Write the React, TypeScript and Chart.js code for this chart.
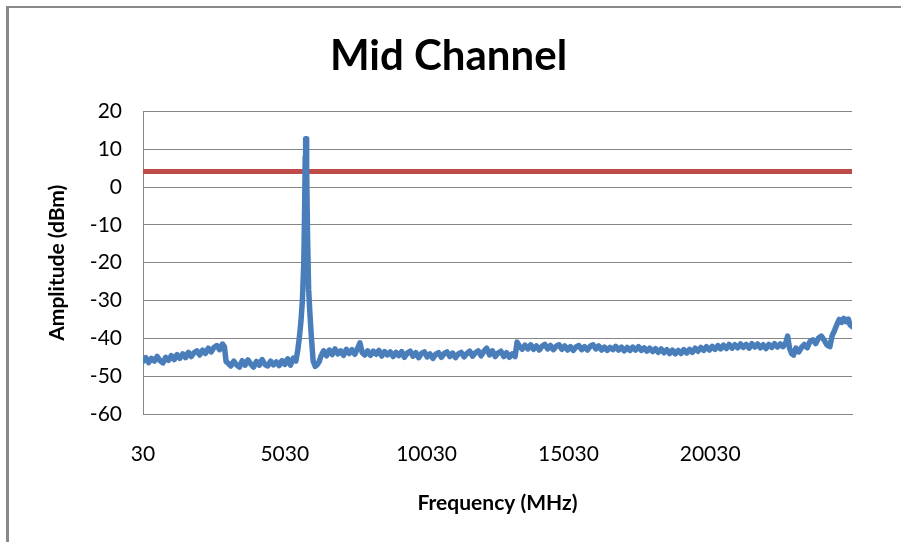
import React, { useEffect, useRef } from "react";
import { Chart, registerables } from "chart.js";

Chart.register(...registerables);

const chartTitle = "Mid Channel";
const xAxisTitle = "Frequency (MHz)";
const yAxisTitle = "Amplitude (dBm)";

const xTickLabels = [30, 5030, 10030, 15030, 20030];
const yTickMin = -60;
const yTickMax = 20;
const yTickStep = 10;

const freqMHz = [
  30, 130, 230, 330, 430, 530, 630, 730, 830, 930,
  1030, 1130, 1230, 1330, 1430, 1530, 1630, 1730, 1830, 1930,
  2030, 2130, 2230, 2330, 2430, 2530, 2630, 2730, 2830, 2900,
  2960, 3030, 3130, 3230, 3330, 3430, 3530, 3630, 3730, 3830,
  3930, 4030, 4130, 4230, 4330, 4430, 4530, 4630, 4730, 4830,
  4930, 5030, 5130, 5230, 5330,
  5420, 5480, 5540, 5600, 5650, 5700, 5730, 5750, 5765, 5780,
  5800, 5830, 5870, 5920, 5970, 6030, 6100, 6170, 6240,
  6300, 6400, 6500, 6600, 6700, 6800, 6900, 7000, 7100, 7200,
  7300, 7400, 7500, 7600, 7680, 7760, 7850, 7950, 8050, 8150,
  8250, 8350, 8450, 8550, 8650, 8750, 8850, 8950, 9050, 9150,
  9250, 9350, 9450, 9550, 9650, 9750, 9850, 9950, 10050, 10150,
  10250, 10350, 10450, 10550, 10650, 10750, 10850, 10950, 11050, 11150,
  11250, 11350, 11450, 11550, 11650, 11750, 11850, 11950, 12050, 12150,
  12250, 12350, 12450, 12550, 12650, 12750, 12850, 12950, 13050, 13150,
  13220,
  13300, 13400, 13500, 13600, 13700, 13800, 13900, 14000, 14100, 14200,
  14300, 14400, 14500, 14600, 14700, 14800, 14900, 15000, 15100, 15200,
  15300, 15400, 15500, 15600, 15700, 15800, 15900, 16000, 16100, 16200,
  16300, 16400, 16500, 16600, 16700, 16800, 16900, 17000, 17100, 17200,
  17300, 17400, 17500, 17600, 17700, 17800, 17900, 18000, 18100, 18200,
  18300, 18400, 18500, 18600, 18700, 18800, 18900, 19000, 19100, 19200,
  19300, 19400, 19500, 19600, 19700, 19800, 19900, 20000, 20100, 20200,
  20300, 20400, 20500, 20600, 20700, 20800, 20900, 21000, 21100, 21200,
  21300, 21400, 21500, 21600, 21700, 21800, 21900, 22000, 22100, 22200,
  22300, 22400, 22500, 22600, 22700, 22760, 22830, 22900, 22970, 23050,
  23150, 23250, 23350, 23450,
  23550, 23650, 23750, 23850, 23950, 24050, 24150, 24250, 24330, 24420,
  24500, 24580, 24660, 24740, 24820, 24900, 24960, 25030,
];

const amplitudeDbm = [
  -46.1, -45.1, -46.4, -45.3, -46.0, -44.8, -45.9, -46.5, -45.0, -45.8,
  -44.6, -45.6, -44.3, -45.3, -44.1, -45.1, -43.7, -44.8, -43.8, -43.3,
  -44.4, -43.1, -44.0, -42.6, -43.6, -42.4, -41.9, -43.0, -41.5, -42.2,
  -46.1, -46.6, -47.3, -46.0, -47.0, -47.6, -45.9, -47.1, -45.7, -46.8,
  -47.6, -46.1, -47.1, -45.6, -46.9, -47.3, -46.0, -47.0, -46.2, -47.2,
  -45.9, -46.9, -45.4, -47.1, -45.2,
  -46.0, -43.5, -40.0, -35.5, -30.0, -20.0, -5.0, 8.0, 12.8, 12.8,
  5.0, -12.0, -27.0, -34.0, -40.0, -46.0, -47.4, -47.0, -46.2,
  -44.8, -43.3, -44.6, -43.1, -44.3, -42.8, -44.1, -43.3, -44.5, -42.9,
  -44.0, -43.0, -44.2, -42.6, -41.2, -43.8, -44.4, -43.3, -44.5, -43.4,
  -44.2, -43.2, -44.7, -43.5, -44.4, -43.6, -44.8, -43.7, -44.6, -43.5,
  -45.0, -43.9, -43.4, -44.7, -43.8, -45.1, -44.0, -43.6, -44.9, -44.1,
  -45.3, -44.2, -43.8, -45.0, -44.0, -43.6, -44.8, -43.9, -45.1, -44.1,
  -43.7, -44.9, -44.0, -43.4, -44.7, -43.8, -43.3, -44.6, -43.4, -42.6,
  -44.4, -43.3, -44.8, -43.9, -43.4, -44.8, -43.8, -45.0, -44.1, -44.8,
  -41.0,
  -42.0, -42.9, -41.8, -42.8, -41.7, -42.9, -42.0, -43.1, -42.1, -41.6,
  -42.8, -41.9, -43.0, -42.1, -41.7, -42.9, -42.0, -43.1, -42.2, -43.2,
  -42.3, -41.9, -43.0, -42.2, -43.1, -42.1, -41.7, -42.8, -42.0, -43.1,
  -42.3, -43.2, -42.4, -43.0, -42.1, -43.1, -42.3, -43.3, -42.4, -43.2,
  -42.3, -43.1, -42.2, -43.2, -42.5, -43.4, -42.6, -43.5, -42.7, -43.7,
  -42.8, -43.8, -43.0, -44.0, -43.1, -44.1, -43.2, -44.0, -43.0, -43.9,
  -42.9, -43.7, -42.6, -43.4, -42.4, -43.2, -42.2, -43.1, -42.1, -42.9,
  -41.9, -42.8, -41.8, -42.7, -41.6, -42.6, -41.7, -42.5, -41.5, -42.4,
  -41.6, -42.6, -41.4, -42.3, -41.5, -42.5, -41.7, -42.7, -41.6, -42.4,
  -41.4, -42.3, -41.5, -42.2, -41.0, -39.4, -42.7, -44.0, -44.4, -42.6,
  -43.6, -42.4, -41.6, -42.5,
  -40.8, -40.4, -41.4, -39.9, -39.4, -40.5, -41.8, -42.2, -39.3, -37.8,
  -36.3, -35.0, -35.8, -34.7, -35.6, -34.9, -36.4, -36.9,
];

const limitFreqMHz = [30, 25030];
const limitDbm = [4.1, 4.1];

const FONT = "Lato";

export default function App() {
  const canvasRef = useRef<HTMLCanvasElement | null>(null);

  useEffect(() => {
    document.body.style.margin = "0";
    const canvas = canvasRef.current;
    if (!canvas) return;
    const chart = new Chart(canvas, {
      type: "line",
      data: {
        datasets: [
          {
            label: "Mid Channel",
            data: freqMHz.map((f, i) => ({ x: f, y: amplitudeDbm[i] })),
            borderColor: "#4A7EBB",
            backgroundColor: "#4A7EBB",
            borderWidth: 5.5,
            borderJoinStyle: "round",
            borderCapStyle: "round",
            pointRadius: 0,
            tension: 0,
            order: 0,
          },
          {
            label: "Limit",
            data: limitFreqMHz.map((f, i) => ({ x: f, y: limitDbm[i] })),
            borderColor: "#BE4B48",
            backgroundColor: "#BE4B48",
            borderWidth: 5,
            pointRadius: 0,
            tension: 0,
            order: 1,
          },
        ],
      },
      options: {
        animation: false,
        responsive: true,
        maintainAspectRatio: false,
        layout: { padding: { left: 45, right: 49, top: 0, bottom: 26 } },
        plugins: {
          legend: { display: false },
          tooltip: { enabled: false },
          title: {
            display: true,
            text: chartTitle,
            color: "#000000",
            font: { family: FONT, size: 42, weight: "bold" },
            padding: { top: 31, bottom: 30 },
          },
        },
        scales: {
          x: {
            type: "linear",
            min: xTickLabels[0],
            max: 25030,
            afterBuildTicks: (scale: any) => {
              scale.ticks = xTickLabels.map((v) => ({ value: v }));
            },
            afterFit: (scale: any) => {
              scale.height = 102;
            },
            grid: { display: false, drawTicks: false },
            border: { display: true, color: "#868686", width: 1 },
            ticks: {
              autoSkip: false,
              maxRotation: 0,
              padding: 28,
              color: "#000000",
              font: { family: FONT, size: 21 },
              callback: (v: any) => String(v),
            },
            title: {
              display: true,
              text: xAxisTitle,
              color: "#000000",
              font: { family: FONT, size: 21, weight: "bold" },
              padding: 0,
            },
          },
          y: {
            type: "linear",
            min: yTickMin,
            max: yTickMax,
            afterFit: (scale: any) => {
              scale.width = 98;
            },
            grid: { color: "#868686", lineWidth: 1, drawTicks: false },
            border: { display: true, color: "#868686", width: 1 },
            ticks: {
              stepSize: yTickStep,
              padding: 21,
              color: "#000000",
              font: { family: FONT, size: 21 },
            },
            title: {
              display: true,
              text: yAxisTitle,
              color: "#000000",
              font: { family: FONT, size: 21, weight: "bold" },
              padding: 0,
            },
          },
        },
      },
    });
    return () => chart.destroy();
  }, []);

  return (
    <div style={{ position: "relative", width: 901, height: 542, background: "#ffffff" }}>
      <canvas ref={canvasRef} />
      <div
        style={{
          position: "absolute",
          left: 6,
          top: 6,
          right: 0,
          bottom: 0,
          borderLeft: "3px solid #898989",
          borderTop: "2px solid #898989",
          pointerEvents: "none",
        }}
      />
    </div>
  );
}
